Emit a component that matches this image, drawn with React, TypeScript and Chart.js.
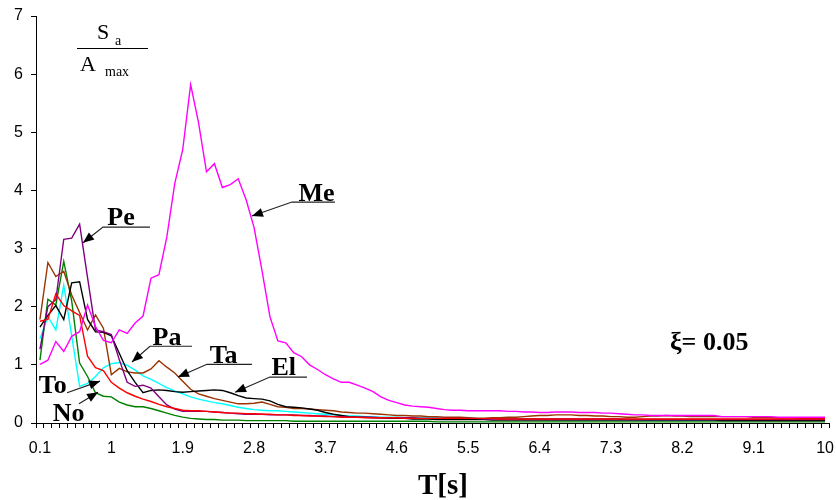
import { useEffect, useRef } from "react";
import { Chart, registerables } from "chart.js";

Chart.register(...registerables);

// Period axis T [s]
const periods = [
  0.1, 0.2, 0.3, 0.4, 0.5, 0.6, 0.7, 0.8, 0.9, 1,
  1.1, 1.2, 1.3, 1.4, 1.5, 1.6, 1.7, 1.8, 1.9, 2,
  2.1, 2.2, 2.3, 2.4, 2.5, 2.6, 2.7, 2.8, 2.9, 3,
  3.1, 3.2, 3.3, 3.4, 3.5, 3.6, 3.7, 3.8, 3.9, 4,
  4.1, 4.2, 4.3, 4.4, 4.5, 4.6, 4.7, 4.8, 4.9, 5,
  5.1, 5.2, 5.3, 5.4, 5.5, 5.6, 5.7, 5.8, 5.9, 6,
  6.1, 6.2, 6.3, 6.4, 6.5, 6.6, 6.7, 6.8, 6.9, 7,
  7.1, 7.2, 7.3, 7.4, 7.5, 7.6, 7.7, 7.8, 7.9, 8,
  8.1, 8.2, 8.3, 8.4, 8.5, 8.6, 8.7, 8.8, 8.9, 9,
  9.1, 9.2, 9.3, 9.4, 9.5, 9.6, 9.7, 9.8, 9.9, 10,
];

// Period values that carry a tick label
const labelledPeriods = [0.1, 1, 1.9, 2.8, 3.7, 4.6, 5.5, 6.4, 7.3, 8.2, 9.1, 10];

// Normalised spectral acceleration Sa / Amax, one array per record
const me = [
  1.01, 1.08, 1.40, 1.23, 1.49, 1.57, 2.03, 1.66, 1.42, 1.38,
  1.60, 1.54, 1.72, 1.84, 2.49, 2.55, 3.20, 4.12, 4.70, 5.82,
  5.16, 4.32, 4.46, 4.05, 4.10, 4.20, 3.84, 3.36, 2.62, 1.83,
  1.41, 1.38, 1.21, 1.14, 1.00, 0.92, 0.83, 0.76, 0.70, 0.70,
  0.65, 0.60, 0.54, 0.45, 0.39, 0.35, 0.31, 0.29, 0.28, 0.27,
  0.25, 0.23, 0.22, 0.22, 0.21, 0.21, 0.21, 0.21, 0.21, 0.20,
  0.20, 0.19, 0.19, 0.18, 0.18, 0.19, 0.19, 0.19, 0.18, 0.18,
  0.18, 0.17, 0.17, 0.16, 0.15, 0.14, 0.14, 0.13, 0.13, 0.13,
  0.13, 0.13, 0.13, 0.13, 0.13, 0.13, 0.11, 0.11, 0.11, 0.11,
  0.11, 0.11, 0.11, 0.10, 0.10, 0.10, 0.10, 0.10, 0.10, 0.10,
];

const pe = [
  1.27, 2.00, 2.12, 3.16, 3.18, 3.42, 2.50, 1.60, 1.57, 1.52,
  1.09, 0.70, 0.63, 0.65, 0.60, 0.45, 0.31, 0.24, 0.20, 0.20,
  0.20, 0.20, 0.19, 0.18, 0.17, 0.16, 0.15, 0.15, 0.15, 0.14,
  0.14, 0.14, 0.14, 0.13, 0.13, 0.12, 0.12, 0.11, 0.11, 0.10,
  0.10, 0.10, 0.10, 0.09, 0.09, 0.09, 0.09, 0.09, 0.08, 0.08,
  0.08, 0.08, 0.08, 0.08, 0.08, 0.08, 0.07, 0.07, 0.07, 0.07,
  0.07, 0.07, 0.07, 0.07, 0.07, 0.07, 0.07, 0.07, 0.07, 0.07,
  0.07, 0.07, 0.07, 0.07, 0.06, 0.06, 0.06, 0.06, 0.06, 0.06,
  0.06, 0.06, 0.06, 0.06, 0.06, 0.06, 0.06, 0.06, 0.06, 0.06,
  0.06, 0.06, 0.06, 0.06, 0.06, 0.06, 0.06, 0.06, 0.06, 0.06,
];

const pa = [
  1.45, 1.83, 1.60, 2.37, 1.50, 0.63, 0.68, 0.80, 0.95, 1.02,
  1.04, 0.99, 0.91, 0.81, 0.75, 0.68, 0.61, 0.55, 0.50, 0.45,
  0.41, 0.38, 0.35, 0.33, 0.30, 0.27, 0.25, 0.23, 0.22, 0.21,
  0.21, 0.20, 0.19, 0.18, 0.17, 0.16, 0.15, 0.14, 0.13, 0.12,
  0.12, 0.11, 0.11, 0.10, 0.10, 0.10, 0.09, 0.09, 0.09, 0.09,
  0.09, 0.08, 0.08, 0.08, 0.08, 0.08, 0.08, 0.08, 0.07, 0.07,
  0.07, 0.07, 0.07, 0.07, 0.07, 0.06, 0.06, 0.06, 0.06, 0.06,
  0.06, 0.06, 0.06, 0.06, 0.06, 0.06, 0.05, 0.05, 0.05, 0.05,
  0.05, 0.05, 0.05, 0.05, 0.05, 0.05, 0.05, 0.05, 0.05, 0.05,
  0.05, 0.05, 0.05, 0.05, 0.05, 0.05, 0.05, 0.05, 0.05, 0.05,
];

const ta = [
  1.78, 2.76, 2.52, 2.61, 2.20, 1.90, 1.60, 1.86, 1.63, 0.83,
  0.94, 0.88, 0.86, 0.86, 0.93, 1.07, 0.96, 0.86, 0.72, 0.58,
  0.50, 0.46, 0.42, 0.39, 0.36, 0.33, 0.33, 0.34, 0.36, 0.32,
  0.28, 0.27, 0.25, 0.25, 0.24, 0.23, 0.22, 0.21, 0.19, 0.18,
  0.17, 0.17, 0.16, 0.15, 0.14, 0.13, 0.13, 0.12, 0.12, 0.11,
  0.11, 0.10, 0.10, 0.10, 0.09, 0.08, 0.08, 0.09, 0.09, 0.10,
  0.10, 0.11, 0.12, 0.13, 0.13, 0.14, 0.14, 0.14, 0.13, 0.13,
  0.12, 0.12, 0.11, 0.11, 0.10, 0.10, 0.11, 0.12, 0.12, 0.13,
  0.12, 0.12, 0.11, 0.11, 0.11, 0.11, 0.11, 0.11, 0.11, 0.11,
  0.10, 0.10, 0.10, 0.09, 0.09, 0.09, 0.08, 0.08, 0.08, 0.08,
];

const el = [
  1.65, 1.85, 2.02, 1.78, 2.41, 2.43, 1.78, 1.57, 1.56, 1.50,
  1.20, 0.90, 0.70, 0.52, 0.56, 0.57, 0.56, 0.54, 0.53, 0.54,
  0.55, 0.56, 0.57, 0.56, 0.52, 0.47, 0.43, 0.42, 0.41, 0.38,
  0.32, 0.28, 0.27, 0.26, 0.24, 0.22, 0.18, 0.15, 0.13, 0.11,
  0.10, 0.10, 0.09, 0.09, 0.08, 0.08, 0.08, 0.07, 0.07, 0.07,
  0.06, 0.06, 0.06, 0.06, 0.06, 0.06, 0.06, 0.05, 0.05, 0.05,
  0.05, 0.05, 0.05, 0.05, 0.05, 0.05, 0.05, 0.05, 0.05, 0.05,
  0.05, 0.05, 0.05, 0.05, 0.05, 0.05, 0.05, 0.05, 0.05, 0.05,
  0.05, 0.05, 0.05, 0.05, 0.05, 0.05, 0.04, 0.04, 0.04, 0.04,
  0.04, 0.04, 0.04, 0.04, 0.04, 0.04, 0.04, 0.04, 0.04, 0.04,
];

const to = [
  1.75, 1.78, 2.22, 2.02, 1.93, 1.85, 1.15, 0.95, 0.90, 0.70,
  0.60, 0.52, 0.46, 0.41, 0.37, 0.32, 0.28, 0.25, 0.22, 0.21,
  0.21, 0.20, 0.19, 0.18, 0.17, 0.17, 0.16, 0.16, 0.15, 0.15,
  0.14, 0.14, 0.13, 0.13, 0.12, 0.12, 0.11, 0.11, 0.10, 0.10,
  0.10, 0.09, 0.09, 0.09, 0.09, 0.09, 0.08, 0.08, 0.08, 0.08,
  0.08, 0.08, 0.08, 0.08, 0.08, 0.08, 0.08, 0.08, 0.07, 0.07,
  0.07, 0.07, 0.07, 0.07, 0.07, 0.07, 0.07, 0.07, 0.07, 0.07,
  0.07, 0.07, 0.07, 0.07, 0.07, 0.07, 0.07, 0.07, 0.07, 0.07,
  0.07, 0.07, 0.07, 0.07, 0.07, 0.07, 0.07, 0.07, 0.07, 0.07,
  0.07, 0.07, 0.07, 0.07, 0.07, 0.07, 0.07, 0.07, 0.07, 0.07,
];

const no = [
  1.08, 2.13, 2.03, 2.78, 2.10, 1.03, 0.80, 0.52, 0.46, 0.45,
  0.36, 0.31, 0.28, 0.28, 0.25, 0.21, 0.17, 0.13, 0.10, 0.08,
  0.07, 0.06, 0.06, 0.05, 0.05, 0.05, 0.04, 0.04, 0.04, 0.04,
  0.04, 0.04, 0.03, 0.03, 0.03, 0.03, 0.03, 0.03, 0.03, 0.03,
  0.03, 0.03, 0.03, 0.03, 0.03, 0.03, 0.03, 0.03, 0.03, 0.03,
  0.02, 0.02, 0.02, 0.02, 0.02, 0.02, 0.02, 0.02, 0.02, 0.02,
  0.02, 0.02, 0.02, 0.02, 0.02, 0.02, 0.02, 0.02, 0.02, 0.02,
  0.02, 0.02, 0.02, 0.02, 0.02, 0.02, 0.02, 0.02, 0.02, 0.02,
  0.02, 0.02, 0.02, 0.02, 0.02, 0.02, 0.02, 0.02, 0.02, 0.02,
  0.02, 0.02, 0.02, 0.02, 0.02, 0.02, 0.02, 0.02, 0.02, 0.02,
];

// Record names pointed at by arrows: [index, value] pairs on the chart scales
type Pt = [number, number];
type Callout = { name: string; text: Pt; from: Pt; under?: Pt; tip: Pt };

const callouts: Callout[] = [
  { name: "Pe", text: [8.5, 3.41], from: [7.95, 3.37], under: [13.87, 3.37], tip: [5.43, 3.1] },
  { name: "Me", text: [32.6, 3.82], from: [31.78, 3.8], under: [37.2, 3.8], tip: [26.73, 3.56] },
  { name: "Pa", text: [14.2, 1.34], from: [13.87, 1.32], under: [19.17, 1.32], tip: [11.6, 1.05] },
  { name: "Ta", text: [21.4, 1.03], from: [21.06, 1.01], under: [26.73, 1.01], tip: [17.4, 0.79] },
  { name: "El", text: [29.2, 0.83], from: [29.0, 0.79], under: [33.67, 0.79], tip: [24.6, 0.53] },
  { name: "To", text: [-0.15, 0.52], from: [3.41, 0.52], tip: [7.57, 0.72] },
  { name: "No", text: [1.6, 0.03], from: [4.92, 0.33], tip: [7.32, 0.53] },
];

const dampingText = "ξ= 0.05";
const dampingAt: Pt = [79.45, 1.26];
const xTitle = "T[s]";
const xTitleAt: Pt = [50.82, -1.22];

const SERIF = "'Liberation Serif', 'Times New Roman', serif";
const SANS = "'Liberation Sans', Arial, sans-serif";

const annotations = {
  id: "spectrumAnnotations",
  afterDraw(chart: any) {
    const { ctx } = chart;
    const xs = chart.scales.x;
    const ys = chart.scales.y;
    const P = (p: Pt) => [xs.getPixelForValue(p[0]), ys.getPixelForValue(p[1])];

    ctx.save();
    ctx.fillStyle = "#000";
    ctx.strokeStyle = "#000";
    ctx.textBaseline = "alphabetic";
    ctx.textAlign = "left";

    // Ordinate label: Sa over Amax
    const [sx, sy] = P([7.19, 6.6]);
    ctx.font = `22px ${SERIF}`;
    ctx.fillText("S", sx, sy);
    const [ax1, ay1] = P([9.46, 6.5]);
    ctx.font = `14px ${SERIF}`;
    ctx.fillText("a", ax1, ay1);
    const [bx0, by] = P([4.67, 6.45]);
    const [bx1] = P([13.62, 6.45]);
    ctx.lineWidth = 1;
    ctx.beginPath();
    ctx.moveTo(bx0, Math.round(by) + 0.5);
    ctx.lineTo(bx1, Math.round(by) + 0.5);
    ctx.stroke();
    const [Ax, Ay] = P([5.05, 6.05]);
    ctx.font = `22px ${SERIF}`;
    ctx.fillText("A", Ax, Ay);
    const [mx, my] = P([8.2, 5.96]);
    ctx.font = `14px ${SERIF}`;
    ctx.fillText("max", mx, my);

    // Record name callouts with arrows
    ctx.font = `bold 26px ${SERIF}`;
    for (const c of callouts) {
      const [tx, ty] = P(c.text);
      ctx.fillText(c.name, tx, ty);
      const [fx, fy] = P(c.from);
      const [px, py] = P(c.tip);
      ctx.lineWidth = 1.2;
      ctx.strokeStyle = "#222";
      ctx.beginPath();
      if (c.under) {
        const [ux, uy] = P(c.under);
        ctx.moveTo(ux, uy);
        ctx.lineTo(fx, fy);
      } else {
        ctx.moveTo(fx, fy);
      }
      ctx.lineTo(px, py);
      ctx.stroke();
      const ang = Math.atan2(py - fy, px - fx);
      const len = 11;
      const half = 4.5;
      const bxp = px - len * Math.cos(ang);
      const byp = py - len * Math.sin(ang);
      ctx.beginPath();
      ctx.moveTo(px, py);
      ctx.lineTo(bxp + half * Math.sin(ang), byp - half * Math.cos(ang));
      ctx.lineTo(bxp - half * Math.sin(ang), byp + half * Math.cos(ang));
      ctx.closePath();
      ctx.fill();
    }

    // Damping ratio
    const [dx, dy] = P(dampingAt);
    ctx.font = `bold 26px ${SERIF}`;
    ctx.fillText(dampingText, dx, dy);

    // Abscissa title
    const [tx, ty] = P(xTitleAt);
    ctx.font = `bold 29px ${SERIF}`;
    ctx.textAlign = "center";
    ctx.fillText(xTitle, tx, ty);

    ctx.restore();
  },
};

export default function App() {
  const canvasRef = useRef<HTMLCanvasElement | null>(null);

  useEffect(() => {
    document.body.style.margin = "0";
    const canvas = canvasRef.current;
    if (!canvas) return;

    const line = (data: number[], color: string) => ({
      data,
      borderColor: color,
      backgroundColor: color,
      borderWidth: 1.4,
      pointRadius: 0,
      tension: 0,
      fill: false,
    });

    const chart = new Chart(canvas, {
      type: "line",
      data: {
        labels: periods,
        datasets: [
          line(me, "#ff00ff"),
          line(to, "#ff0000"),
          line(pe, "#800080"),
          line(el, "#000000"),
          line(ta, "#993300"),
          line(pa, "#00ffff"),
          line(no, "#008000"),
        ],
      },
      options: {
        animation: false,
        responsive: false,
        devicePixelRatio: 1,
        layout: { padding: { top: 16, right: 7, left: 0, bottom: 0 } },
        plugins: {
          legend: { display: false },
          tooltip: { enabled: false },
        },
        scales: {
          x: {
            type: "category",
            offset: true,
            afterFit: (s: any) => {
              s.height = 77;
              s.paddingLeft = 0;
              s.paddingRight = 0;
            },
            grid: {
              offset: true,
              drawOnChartArea: false,
              drawTicks: true,
              tickLength: 5,
              color: "#000",
              lineWidth: 1,
            },
            border: { display: true, color: "#000", width: 1 },
            ticks: {
              autoSkip: false,
              maxRotation: 0,
              minRotation: 0,
              padding: 11,
              color: "#000",
              font: { family: SANS, size: 16 },
              callback: (_v: any, i: number) =>
                labelledPeriods.includes(periods[i]) ? String(periods[i]) : "",
            },
          },
          y: {
            min: 0,
            max: 7,
            afterFit: (s: any) => {
              s.width = 36;
              s.paddingTop = 0;
              s.paddingBottom = 0;
            },
            grid: {
              drawOnChartArea: false,
              drawTicks: true,
              tickLength: 5,
              color: "#000",
              lineWidth: 1,
            },
            border: { display: true, color: "#000", width: 1 },
            ticks: {
              stepSize: 1,
              padding: 8,
              color: "#000",
              font: { family: SANS, size: 16 },
            },
          },
        },
      },
      plugins: [annotations],
    });

    return () => chart.destroy();
  }, []);

  return (
    <div style={{ width: 836, height: 500, background: "#fff" }}>
      <canvas ref={canvasRef} width={836} height={500} />
    </div>
  );
}
